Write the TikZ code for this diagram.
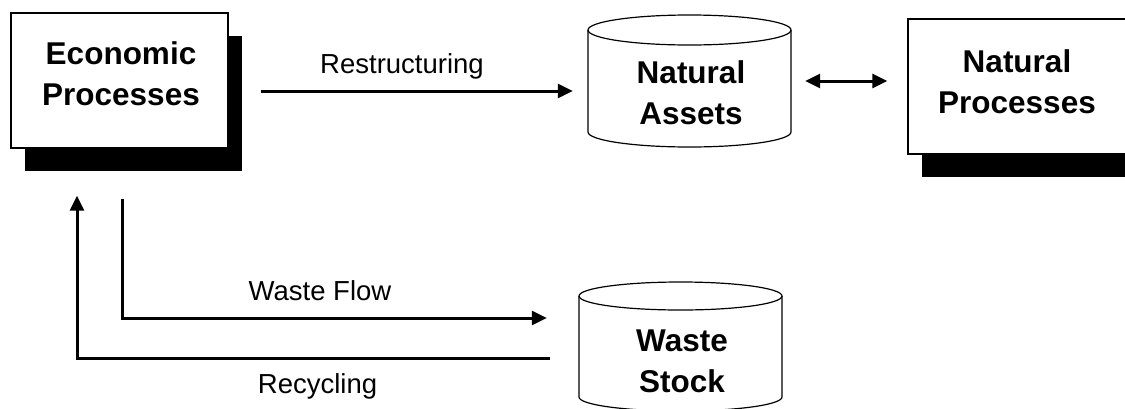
\documentclass[tikz,border=0pt]{standalone}
\usepackage{fontspec}
\setmainfont{Liberation Sans}
\usetikzlibrary{arrows.meta,shadows}
\begin{document}
\begin{tikzpicture}[x=1pt,y=-1pt,
  procbox/.style={draw=black, line width=1.4pt, fill=white, minimum width=217pt,
    minimum height=135pt, inner sep=0pt,
    drop shadow={shadow xshift=13.5pt, shadow yshift=-22.5pt, fill=black, opacity=1}},
  cylarea/.style={minimum width=203pt, inner sep=0pt},
  cylline/.style={line width=1.2pt},
  title/.style={font=\fontsize{31.5}{41}\selectfont\bfseries, align=center, inner sep=0pt},
  lbl/.style={font=\fontsize{27.5}{33}\selectfont, inner sep=0pt, anchor=base},
  flow/.style={line width=3pt, -{Triangle[length=15pt,width=14pt]}},
  dflow/.style={line width=3pt, {Triangle[length=15pt,width=14pt]}-{Triangle[length=15pt,width=14pt]}}]

\useasboundingbox (0,0) rectangle (1125,408);
\clip (0,0) rectangle (1125,408);

% Economic Processes
\node[procbox] (eco) at (119.5,80.5) {};
\node[title] (ecoT) at (121,74) {Economic\\Processes};

% Natural Processes
\node[procbox, minimum width=219pt] (np) at (1017.5,86.5) {};
\node[title] (npT) at (1017,82) {Natural\\Processes};

% Natural Assets (cylinder)
\node[cylarea, minimum height=132pt] (na) at (689.5,81) {};
\draw[cylline] (588,30) -- (588,132) arc[start angle=180, end angle=0, x radius=101.5, y radius=15] -- (791,30);
\draw[cylline] (689.5,30) ellipse [x radius=101.5, y radius=15];
\node[title] (naT) at (691,93) {Natural\\Assets};

% Waste Stock (cylinder)
\node[cylarea, minimum height=129pt] (ws) at (680.5,346.5) {};
\draw[cylline] (579,296) -- (579,397) arc[start angle=180, end angle=0, x radius=101.5, y radius=14] -- (782,296);
\draw[cylline] (680.5,296) ellipse [x radius=101.5, y radius=14];
\node[title] (wsT) at (682,361) {Waste\\Stock};

% Connectors
\draw[flow] ([xshift=32pt,yshift=-10.5pt]eco.east) -- ([xshift=-15pt,yshift=-10pt]na.west);
\node[lbl] (lres) at (402,73) {Restructuring};

\draw[dflow] ([xshift=14pt]na.east) -- ([xshift=-20pt,yshift=5.5pt]np.west);

\draw[flow] ([xshift=2.5pt,yshift=-50pt]eco.south) |- ([xshift=-32pt,yshift=28.5pt]ws.west);
\node[lbl] (lwf) at (320,300) {Waste Flow};

\draw[flow] ([xshift=-29pt,yshift=-11.5pt]ws.west) -| ([xshift=-42.5pt,yshift=-47pt]eco.south);
\node[lbl] (lrec) at (317.5,393) {Recycling};
\end{tikzpicture}
\end{document}
